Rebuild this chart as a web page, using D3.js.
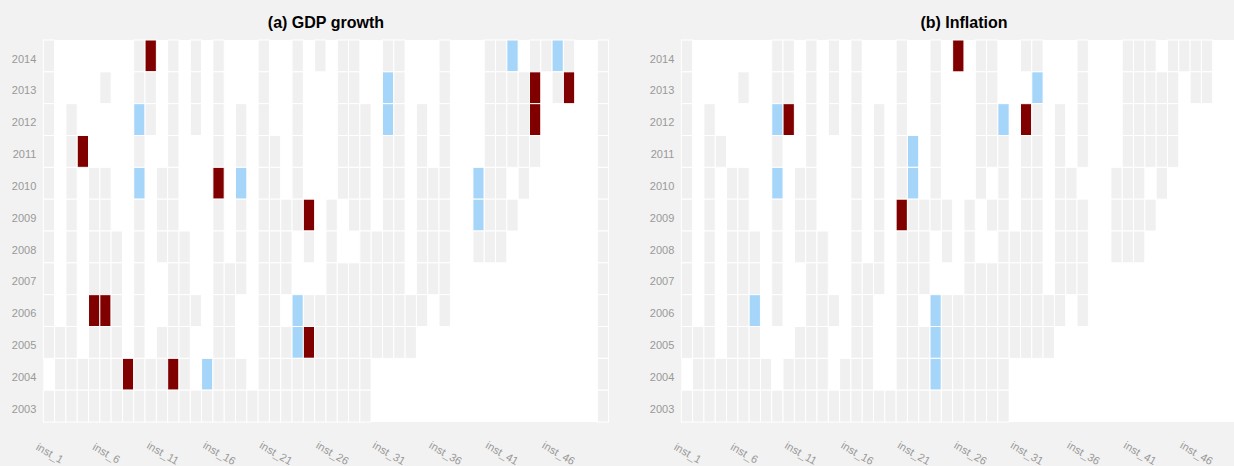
<!DOCTYPE html>
<html>
<head>
<meta charset="utf-8">
<script src="https://cdn.jsdelivr.net/npm/d3@7"></script>
<style>
  html, body { margin: 0; padding: 0; background: #f2f2f2; }
  svg { display: block; font-family: "Liberation Sans", Arial, Helvetica, sans-serif; }
</style>
</head>
<body>
<svg id="chart" width="1234" height="466"></svg>
<script>
// Institutions along the x axis
const institutions = [
  "inst_1","inst_2","inst_3","inst_4","inst_5","inst_6","inst_7","inst_8","inst_9","inst_10",
  "inst_11","inst_12","inst_13","inst_14","inst_15","inst_16","inst_17","inst_18","inst_19","inst_20",
  "inst_21","inst_22","inst_23","inst_24","inst_25","inst_26","inst_27","inst_28","inst_29","inst_30",
  "inst_31","inst_32","inst_33","inst_34","inst_35","inst_36","inst_37","inst_38","inst_39","inst_40",
  "inst_41","inst_42","inst_43","inst_44","inst_45","inst_46","inst_47","inst_48","inst_49","inst_50"
];

// Years, top row first
const years = [2014, 2013, 2012, 2011, 2010, 2009, 2008, 2007, 2006, 2005, 2004, 2003];

// Labelled x ticks
const xTickLabels = ["inst_1","inst_6","inst_11","inst_16","inst_21","inst_26","inst_31","inst_36","inst_41","inst_46"];

// Status per institution and year: "." no forecast, "o" forecast available,
// "R" large miss above, "B" large miss below. One string per year, one character per institution.
const gdpGrowth = [
  "o.......oR" + ".o.o.o...o" + "..o.o.oo.." + "oo...o...o" + "oB.ooBo..o", // 2014
  "o....o..oo" + ".o.o.o...o" + "..o...oo.." + "Bo...o...o" + "oooR.oR..o", // 2013
  "o.o.....Bo" + ".o.o.o.o.o" + "..o...ooo." + "Bo.o.o...o" + "oooR.....o", // 2012
  "o.oR....o." + ".o...o.o.o" + "o.o...ooo." + "oo.o.o...o" + "oooo.....o", // 2011
  "o.o.oo..B." + "oo...R.B.o" + "o.o...ooo." + "oo.ooo..Bo" + "o.o......o", // 2010
  "o.o.oo..o." + "oo...o.o.o" + "oooR.o.oo." + "oo.ooo..Bo" + "oo.......o", // 2009
  "o.o.ooo.o." + "ooo..o.o.o" + "oo.o.o..oo" + "oo.ooo..oo" + "o........o", // 2008
  "o.o.ooo.o." + ".oo..ooo.o" + "oo...ooooo" + "oo.ooo...." + ".........o", // 2007
  "o.o.RRo.o." + ".ooo.oo..o" + "o.Booooooo" + "oooo.o...." + ".........o", // 2006
  "ooo.ooo.o." + "ooo..oo..o" + "ooBRoooooo" + "ooo......." + ".........o", // 2005
  ".ooooooRoo" + "oRo.Booo.o" + "ooooooooo." + ".........." + ".........o", // 2004
  "oooooooooo" + "oooooooooo" + "ooooooooo." + ".........." + ".........o"  // 2003
];

const inflation = [
  "o.......oo" + ".o.o.o...o" + "..o.R.oo.." + "oo...o...o" + "oo.oooo..o", // 2014
  "o....o..oo" + ".o.o.o...o" + "..o...oo.." + ".B...o...o" + "oooo.oo..o", // 2013
  "o.o.....BR" + ".o.o.o.o.o" + "..o...ooB." + "Ro.o.o...o" + "oooo.....o", // 2012
  "o.oo....o." + ".o...o.o.o" + "B.o...ooo." + "oo.o.o...o" + "oooo.....o", // 2011
  "o.o.oo..B." + "oo...o.o.o" + "B.o...o.o." + "oo.oo...oo" + "o.o......o", // 2010
  "o.o.oo..o." + "oo...o.o.R" + "oooo.o.oo." + "oo.ooo..oo" + "oo.......o", // 2009
  "o.o.ooo.o." + "ooo..o.o.o" + "oo.o.o..oo" + "oo.ooo..oo" + "o........o", // 2008
  "o.o.ooo.o." + ".oo..ooo.o" + "oo...ooooo" + "oo.ooo...." + ".........o", // 2007
  "o.o.ooB.o." + ".ooo.oo..o" + "o.Booooooo" + "oooo.o...." + ".........o", // 2006
  "ooo.ooo..." + "ooo..oo..o" + "ooBooooooo" + "ooo......." + ".........o", // 2005
  ".ooooooo.o" + "ooo.ooo..o" + "ooBoooooo." + ".........." + ".........o", // 2004
  "oooooooooo" + "oooooooooo" + "ooooooooo." + ".........." + ".........o"  // 2003
];

const panelTitles = ["(a) GDP growth", "(b) Inflation"];

// ---- drawing ----
const statusFill = { "o": "#f0f0f0", "R": "#800000", "B": "#a6d5fa" };

const svg = d3.select("#chart");
const W = 1234, H = 466;
svg.append("rect").attr("width", W).attr("height", H).attr("fill", "#f2f2f2");

const plotTop = 40, plotH = 382, plotW = 565.3;
const panelLeft = [43.3, 681.3];

const x = d3.scaleBand().domain(institutions).range([0, plotW]);
const y = d3.scaleBand().domain(years.map(String)).range([0, plotH]);

[gdpGrowth, inflation].forEach((rows, p) => {
  const g = svg.append("g").attr("transform", `translate(${panelLeft[p]},${plotTop})`);

  g.append("rect")
    .attr("width", plotW).attr("height", plotH)
    .attr("fill", "#ffffff");

  const cells = [];
  rows.forEach((row, r) => {
    institutions.forEach((inst, c) => {
      const s = row[c];
      if (s !== ".") cells.push({ inst, year: String(years[r]), s });
    });
  });

  g.selectAll("rect.cell")
    .data(cells)
    .join("rect")
    .attr("class", "cell")
    .attr("x", d => x(d.inst))
    .attr("y", d => y(d.year))
    .attr("width", x.bandwidth())
    .attr("height", y.bandwidth())
    .attr("fill", d => statusFill[d.s])
    .attr("stroke", "#ffffff")
    .attr("stroke-width", 1);

  // y axis
  const yAxis = g.append("g")
    .call(d3.axisLeft(y).tickSize(0).tickPadding(7));
  yAxis.select(".domain").remove();
  yAxis.selectAll("text")
    .attr("dy", "0.6em")
    .attr("fill", "#999999")
    .style("font-size", "11px");

  // x axis with slanted labels
  const xAxis = g.append("g")
    .attr("transform", `translate(0,${plotH})`)
    .call(d3.axisBottom(x).tickValues(xTickLabels).tickSize(0));
  xAxis.select(".domain").remove();
  xAxis.selectAll(".tick text")
    .attr("y", 0).attr("dy", 0)
    .attr("text-anchor", "middle")
    .attr("dominant-baseline", "central")
    .attr("transform", "translate(1,31) rotate(30)")
    .attr("fill", "#999999")
    .style("font-size", "11px");

  // panel title
  svg.append("text")
    .attr("x", panelLeft[p] + plotW / 2)
    .attr("y", 28)
    .attr("text-anchor", "middle")
    .attr("font-weight", "bold")
    .attr("font-size", "16px")
    .attr("fill", "#000000")
    .text(panelTitles[p]);
});
</script>
</body>
</html>
